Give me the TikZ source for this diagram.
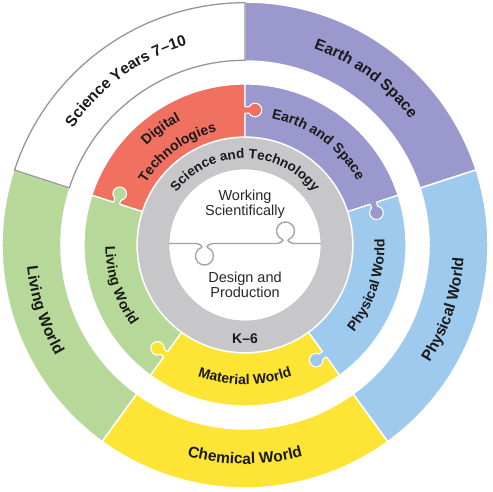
\documentclass[tikz,border=0pt]{standalone}
\usepackage{fontspec}
\setmainfont{Liberation Sans}
\usetikzlibrary{decorations.text}

\definecolor{cred}{RGB}{241,113,97}
\definecolor{cpur}{RGB}{154,152,204}
\definecolor{cblu}{RGB}{157,202,237}
\definecolor{cyel}{RGB}{254,228,52}
\definecolor{cgrn}{RGB}{182,217,153}
\definecolor{cgray}{RGB}{199,199,201}
\definecolor{cbord}{RGB}{150,150,150}
\definecolor{ctxt}{RGB}{26,26,26}
\definecolor{cctr}{RGB}{40,40,40}
\definecolor{cline}{RGB}{165,165,165}

% annular sector: a1, a2, r1 (inner), r2 (outer), options
\newcommand{\ringseg}[5]{\path[#5] (#1:#4) arc[start angle=#1,end angle=#2,radius=#4] -- (#2:#3) arc[start angle=#2,end angle=#1,radius=#3] -- cycle;}

% puzzle knob on boundary at angle #1, colour #2, protruding clockwise
\newcommand{\knob}[2]{%
\begin{scope}[rotate=#1]
 \fill[#2] (131.8,0.9) -- (131.8,-4) arc[start angle=118.07,end angle=421.93,radius=6.8] -- (138.2,0.9) -- cycle;
 \draw[white,line width=1.1] (131.8,0) -- (131.8,-4) arc[start angle=118.07,end angle=421.93,radius=6.8] -- (138.2,0);
\end{scope}}

% clockwise text (tops outward): centre angle, radius, size, text
\newcommand{\cwtext}[4]{\path[decorate,decoration={text along path,text align=center,text color=ctxt,text={|\fontsize{#3}{#3}\selectfont\bfseries|#4}}] (#1+70:#2) arc[start angle=#1+70,end angle=#1-70,radius=#2];}
% counter-clockwise text (tops inward)
\newcommand{\ccwtext}[4]{\path[decorate,decoration={text along path,text align=center,text color=ctxt,text={|\fontsize{#3}{#3}\selectfont\bfseries|#4}}] (#1-70:#2) arc[start angle=#1-70,end angle=#1+70,radius=#2];}

\tikzset{
  outseg/.style={draw=white,line width=1.5},
  midseg/.style={draw=white,line width=1.3},
  ctrtext/.style={align=center,font=\fontsize{14.5}{15}\selectfont,text=cctr},
  ktext/.style={font=\fontsize{14}{14}\selectfont\bfseries,text=ctxt}
}

\begin{document}
\begin{tikzpicture}[x=1pt,y=1pt]
\useasboundingbox (-245,-247) rectangle (248,245);

% outer ring
\ringseg{18}{90}{184}{243}{outseg,fill=cpur}
\ringseg{162}{234}{184}{243}{outseg,fill=cgrn}
\ringseg{234}{306}{184}{243}{outseg,fill=cyel}
\ringseg{-54}{18}{184}{243}{outseg,fill=cblu}
\ringseg{90}{162}{184.7}{242.3}{draw=cbord,line width=1.3,fill=white}

% middle ring
\ringseg{90}{162}{108}{161}{midseg,fill=cred}
\ringseg{18}{90}{108}{161}{midseg,fill=cpur}
\ringseg{-54}{18}{108}{161}{midseg,fill=cblu}
\ringseg{234}{306}{108}{161}{midseg,fill=cyel}
\ringseg{162}{234}{108}{161}{midseg,fill=cgrn}

\knob{90}{cred}
\knob{18}{cpur}
\knob{-54}{cblu}
\knob{234}{cyel}
\knob{162}{cgrn}

% grey ring and centre
\fill[cgray] (0,0) circle (107);
\fill[white] (0,0) circle (76);
\draw[cline!70,line width=0.6] (0,0) circle (76);

\draw[cline,line width=1.4] (-76,1.5) -- (-49,1.5) to[out=0,in=20] (-43.58,-2.54)
  arc[start angle=110,end angle=430,radius=9] to[out=160,in=180] (-32,1.5)
  -- (32,1.5) to[out=0,in=-20] (37.42,5.54)
  arc[start angle=250,end angle=-70,radius=9] to[out=200,in=180] (49,1.5) -- (76,1.5);

\node[ctrtext] (ws) at (0,40.5) {Working\\Scientifically};
\node[ctrtext] (dp) at (0,-40) {Design and\\Production};
\node[ktext] (k6) at (0,-93.5) {K–6};

% labels
\cwtext{90}{86.5}{13.5}{Science and Technology}
\cwtext{126}{208}{15.5}{Science Years 7–10}
\cwtext{54}{208}{15.5}{Earth and Space}
\ccwtext{-18}{219}{15.5}{Physical World}
\ccwtext{270}{219}{15.5}{Chemical World}
\ccwtext{198}{219}{15.5}{Living World}

\cwtext{126}{140}{14}{Digital}
\cwtext{126}{117}{14}{Technologies}
\cwtext{54}{129.5}{14}{Earth and Space}
\ccwtext{-18}{139.5}{14}{Physical World}
\ccwtext{270}{139.5}{14}{Material World}
\ccwtext{198}{139.5}{14}{Living World}
\end{tikzpicture}
\end{document}
